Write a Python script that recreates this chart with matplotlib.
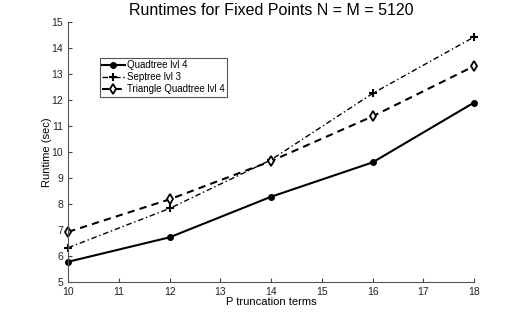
import matplotlib
matplotlib.use("Agg")
import matplotlib.pyplot as plt

# P truncation terms and runtimes (sec)
p_terms = [10, 12, 14, 16, 18]
quadtree = [5.78, 6.72, 8.28, 9.6, 11.9]
septree = [6.32, 7.83, 9.7, 12.25, 14.42]
tri_quadtree = [6.93, 8.18, 9.65, 11.37, 13.3]

plt.rcParams['font.family'] = 'Liberation Sans'

fig = plt.figure(figsize=(5.24, 3.18), dpi=100)
ax = fig.add_axes([0.13, 0.113, 0.7746, 0.818])

ax.plot(p_terms, quadtree, 'k-', marker='o', markersize=4, linewidth=1.5,
        label='Quadtree lvl 4', clip_on=False)
ax.plot(p_terms, septree, color='k', linestyle=(0, (4, 2, 1, 2)), marker='+', markersize=6,
        markeredgewidth=1.5, linewidth=1.0, label='Septree lvl 3', clip_on=False)
ax.plot(p_terms, tri_quadtree, color='k', linestyle=(0, (3.5, 2.5)), marker='d', markersize=5.5,
        markerfacecolor='white', markeredgewidth=1.3, linewidth=1.5,
        label='Triangle Quadtree lvl 4', clip_on=False)

ax.set_xlim(10, 18)
ax.set_ylim(5, 15)
ax.set_xticks(range(10, 19))
ax.set_yticks(range(5, 16))
ax.tick_params(direction='in', labelsize=7.5, length=3, color='#444444', labelcolor='#222222')
for s in ['top', 'right']:
    ax.spines[s].set_visible(False)
for s in ['left', 'bottom']:
    ax.spines[s].set_color('#555555')

ax.set_title('Runtimes for Fixed Points N = M = 5120', fontsize=11.5, pad=5)
ax.set_xlabel('P truncation terms', fontsize=8, labelpad=0)
ax.set_ylabel('Runtime (sec)', fontsize=8, labelpad=0)

leg = ax.legend(loc='upper left', bbox_to_anchor=(0.078, 0.862), fontsize=7, handlelength=2.3,
                fancybox=False, framealpha=1, edgecolor='#555555', borderpad=0.25,
                labelspacing=0.2, handletextpad=0.2, borderaxespad=0)
leg.get_frame().set_linewidth(0.8)

fig.savefig('out.png', dpi=100)
